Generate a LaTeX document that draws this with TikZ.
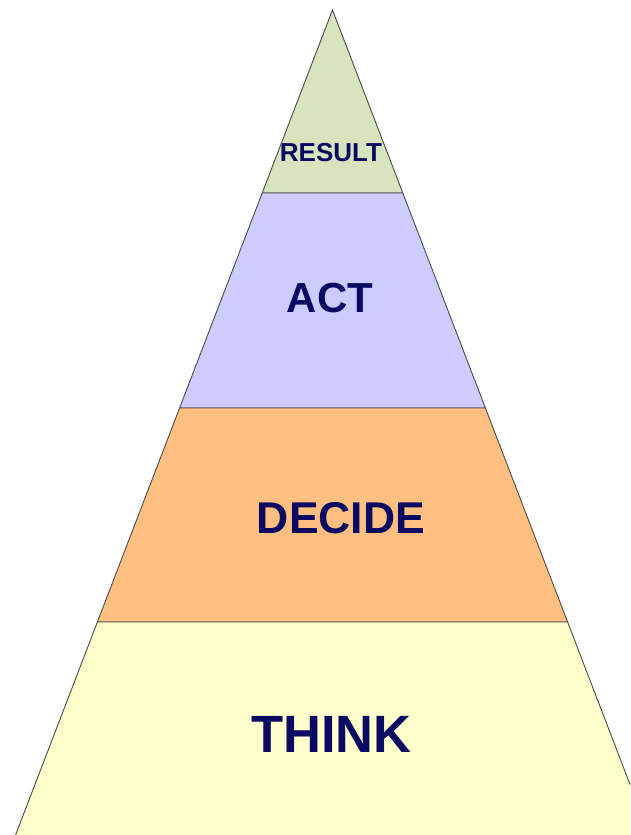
\documentclass[tikz,border=0pt]{standalone}
\usepackage{fontspec}
\setmainfont{Liberation Sans}
\definecolor{tierGreen}{HTML}{D7E4BD}
\definecolor{tierLilac}{HTML}{CCCCFF}
\definecolor{tierOrange}{HTML}{FFBF80}
\definecolor{tierYellow}{HTML}{FFFFCC}
\definecolor{labelNavy}{HTML}{0A0A62}
\definecolor{edgeGray}{HTML}{4A4A4A}
\begin{document}
\begin{tikzpicture}[x=1pt,y=-1pt,
  tier/.style={draw=edgeGray,line width=0.9pt,line join=miter},
  tierlabel/.style={text=labelNavy,font=\bfseries,inner sep=0pt,anchor=center}]
\useasboundingbox (0,0) rectangle (630,835);
\clip (0,0) rectangle (630,835);
% pyramid tiers, top to bottom; the base runs past the lower edge
\path[tier,fill=tierGreen]  (332.5,10) -- (402.8,193) -- (262.2,193) -- cycle;
\path[tier,fill=tierLilac]  (262.2,193) -- (402.8,193) -- (485.4,408) -- (179.6,408) -- cycle;
\path[tier,fill=tierOrange] (179.6,408) -- (485.4,408) -- (567.6,622) -- (97.4,622) -- cycle;
\path[tier,fill=tierYellow] (97.4,622) -- (567.6,622) -- (653.3,845) -- (11.7,845) -- cycle;
% tier labels
\node[tierlabel,font=\bfseries\fontsize{26}{26}\selectfont] (result) at (331,152.5) {RESULT};
\node[tierlabel,font=\bfseries\fontsize{42}{42}\selectfont] (act) at (330,298) {ACT};
\node[tierlabel,font=\bfseries\fontsize{44.5}{44.5}\selectfont] (decide) at (341,518) {DECIDE};
\node[tierlabel,font=\bfseries\fontsize{52.5}{52.5}\selectfont] (think) at (331.5,734) {THINK};
\end{tikzpicture}
\end{document}
